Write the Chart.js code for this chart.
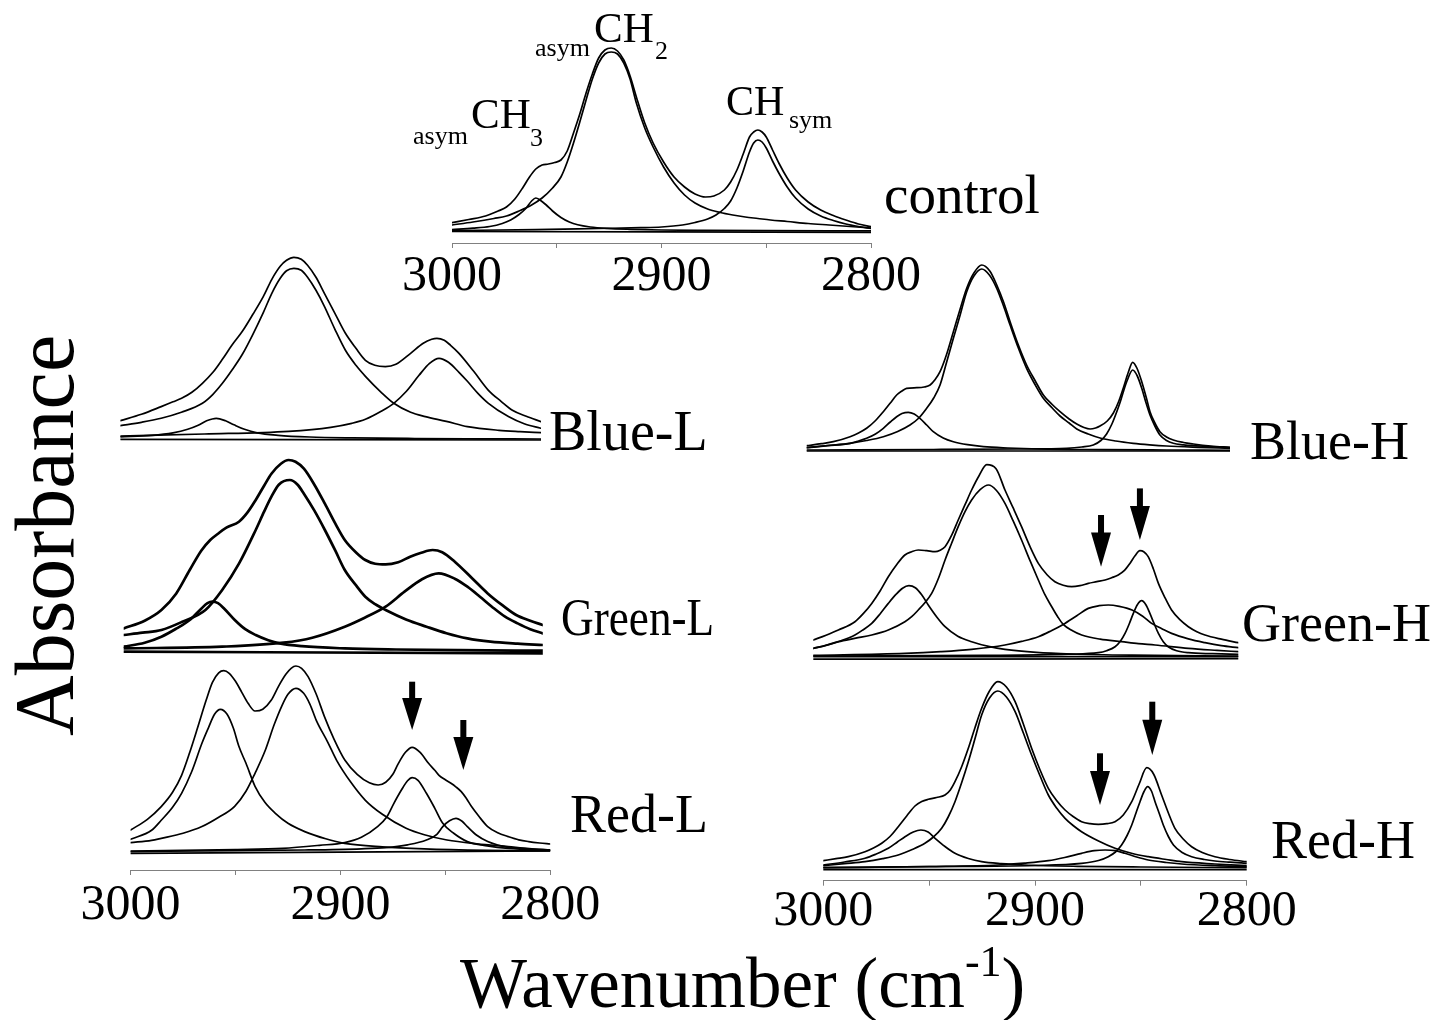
<!DOCTYPE html>
<html><head><meta charset="utf-8">
<script src="https://cdn.jsdelivr.net/npm/chart.js@4.4.1/dist/chart.umd.min.js"></script>
<style>
html,body{margin:0;padding:0;background:#fff;}
#stage{position:relative;width:1452px;height:1020px;overflow:hidden;background:#fff;}
#stage canvas{position:absolute;left:0;top:0;}
.t{position:absolute;font-family:'Liberation Serif','Times New Roman',serif;line-height:1;white-space:nowrap;color:#000;}
</style></head><body><div id="stage"></div>
<script>
// ---------------- DATA (wavenumber cm-1, absorbance a.u.) ----------------
const xTickLabels = [3000, 2900, 2800];

// control
const ctrlSum = [[3000,8.3],[2992,11.5],[2984,15],[2978,20],[2974,24],[2970,32],[2966,44],[2963,54],[2960,62],[2957,66],[2954,67],[2951,68.5],[2948,71],[2945,80],[2942,98],[2939,117],[2936,138],[2933,157],[2930,173],[2927,181],[2924,183],[2921,180],[2918,171],[2915,155],[2912,134],[2908,108],[2904,88],[2899,69],[2894,54],[2889,44],[2884,37],[2879,34],[2875,35],[2870,41],[2867,49],[2864,61],[2861,77],[2858,94],[2856,99],[2854,101],[2852,99],[2850,94],[2847,81],[2844,68],[2840,53],[2836,41],[2830,29],[2824,21],[2818,15.5],[2812,11],[2806,7],[2800,4.3]];
const ctrlCH2 = [[3000,6],[2990,9],[2980,12.5],[2974,15],[2968,20],[2962,26],[2957,33],[2952,43],[2948,54],[2945,69],[2942,88],[2939,109],[2936,131],[2933,152],[2930,168],[2927,177],[2924,179],[2921,177],[2918,168],[2915,152],[2912,128],[2908,103],[2904,84],[2899,64],[2894,48],[2889,36],[2884,28],[2878,22],[2872,18.5],[2866,16],[2860,14],[2854,12.5],[2848,11],[2840,9.5],[2830,7.5],[2820,6],[2810,4.5],[2800,3]];
const ctrlCH3 = [[3000,1.5],[2990,2.8],[2982,4.5],[2976,7.5],[2972,11],[2968,16.5],[2965,22],[2962,30],[2960,33],[2958,31],[2955,26],[2952,20],[2948,13.5],[2944,9],[2940,6.2],[2934,4],[2926,2.6],[2915,1.7],[2900,1],[2880,0.6],[2850,0.3],[2800,0.1]];
const ctrlSym = [[3000,0.5],[2960,1.3],[2930,2.5],[2910,3.3],[2900,4],[2890,6],[2884,8.5],[2878,12],[2874,16],[2870,22.5],[2867,30],[2864,43],[2861,60],[2858,79],[2856,88],[2854,91],[2852,89],[2850,83],[2847,70],[2844,58],[2840,44],[2836,33],[2830,22],[2824,15],[2818,10.5],[2812,7],[2806,4.5],[2800,2.5]];
const ctrlBase = [[3000,-0.5],[2800,-1.3]];

// Blue-L
const blSum = [[3000,18.7],[2990,25],[2980.6,32.7],[2975,37.5],[2970.9,41],[2966,47],[2961,56],[2956,67],[2951.5,80],[2947,94],[2942,108],[2937,125],[2932,143],[2928,160],[2924,173],[2921,179],[2917.5,182],[2914,180],[2911,174],[2907,162],[2903,146],[2898,126],[2893,106],[2888,91],[2883.5,79],[2879,74],[2874,72.7],[2869,75],[2862,86],[2856,96],[2852,100],[2849.5,101],[2846,99],[2843,94],[2839,86],[2832,68],[2825,49],[2819,38],[2813.6,29],[2807,23],[2800,17.7]];
const blCH2 = [[3000,13.7],[2990,17],[2980.6,21],[2971,27],[2961,36],[2956,45],[2951.5,56],[2947,69],[2942,85],[2937,105],[2932,127],[2928,146],[2924,161],[2921,168.5],[2917.5,171],[2914,169],[2911,162],[2907,149],[2903,133],[2898,110],[2893,89],[2888,74],[2883.5,63],[2876,47],[2870,36],[2862,27],[2855,22.7],[2845,18],[2835,12.7],[2820,9],[2810,7.7],[2800,6.7]];
const blCH3 = [[3000,2.5],[2985,4],[2975,6.5],[2968,10],[2963,14],[2959,18.5],[2954.4,21],[2950,18.5],[2946,14.5],[2941,10],[2935,6.5],[2925,4],[2910,2.3],[2890,1.4],[2860,0.8],[2830,0.5],[2800,0.3]];
const blSym = [[3000,3.3],[2960,5.3],[2920,8],[2900,12],[2890,16],[2883.5,20],[2876,28],[2870,36],[2864,48],[2858,64],[2853,76],[2848.5,81],[2844,77],[2839,67],[2835,58],[2830,46],[2825,36],[2815.5,22.7],[2808,15.5],[2800,11]];
const blBase = [[3000,0],[2800,-0.7]];

// Green-L
const glSum = [[3000,23.3],[2990,31],[2982,41.7],[2975,58],[2968.5,81.7],[2963,101],[2958.7,111.7],[2955,118],[2951,124],[2945,130],[2941,139],[2937,151.7],[2933,166],[2929.5,178],[2925,188],[2921.3,191.7],[2918,190],[2914,183],[2909,167],[2904,148],[2899,128],[2894.5,111.7],[2889,99],[2884.7,91.7],[2880,88],[2875,87.3],[2869,89.5],[2863.3,95],[2858,99],[2852.6,101.7],[2848,99.5],[2842,90],[2834,74],[2826.3,58.3],[2819,46],[2812.7,36.7],[2806,31],[2800,26.7]];
const glCH2 = [[3000,16.7],[2991,19],[2982,21.7],[2972,30],[2961,41.7],[2953,61.7],[2945,88],[2937,121.7],[2933,140],[2929.5,155],[2926,167],[2920.7,171.7],[2917,167],[2914,158],[2909,141],[2904,121.7],[2899,101],[2894.5,81.7],[2889,66],[2884.7,55],[2880,47.5],[2875,41.7],[2865,32],[2855.5,25],[2846,18.5],[2836,13.3],[2825,10],[2812,8],[2800,6.7]];
const glCH3 = [[3000,5],[2990,9],[2982,15],[2975,23],[2968.5,31.7],[2963,43],[2960,48.5],[2957.7,50],[2955,48.5],[2952,43],[2947,31.7],[2942,22.5],[2937,16.7],[2931,11.5],[2925.6,8.3],[2915,5.5],[2894.5,3.3],[2870,2.2],[2840,1.5],[2800,1]];
const glSym = [[3000,3.3],[2953,5],[2923.7,9],[2910,14],[2894.5,25],[2885,34],[2875,45],[2866,60],[2858,72],[2849.7,78.3],[2842,73],[2836,65],[2830,55],[2824.3,45],[2818,35],[2812,28.3],[2806,22.5],[2800,18.3]];
const glBase = [[3000,0],[2800,-1.7]];

// Red-L
const rlSum = [[3000,22.3],[2992,33],[2985.4,45.7],[2980,60],[2975.7,77],[2971.8,100],[2968,125],[2964,152],[2961,170],[2958,179.5],[2955.6,181.7],[2953,179],[2950,171],[2947,160],[2944,149],[2940.7,141.3],[2937,143],[2933,152],[2929.5,166],[2926,178],[2923.5,184],[2921.2,186.3],[2918.5,184],[2915.4,175.7],[2911.5,158],[2907.6,135.7],[2903,113],[2897.9,92.3],[2892,78],[2886.2,69.5],[2882,67.3],[2878.4,70],[2875,78],[2872.6,88],[2869,100],[2865.8,105],[2862,100],[2858,89],[2855,82],[2853,77],[2850,72.5],[2847.3,69],[2845,65.5],[2842.4,60.7],[2840,54],[2837.5,45.7],[2834,36],[2829.8,25.7],[2825,19.5],[2820,15.7],[2815,12.5],[2810.3,10.7],[2805,9.3],[2800,8.3]];
const rlCH3 = [[3000,13],[2990,22],[2985.4,32],[2980,45],[2975.7,59],[2971,80],[2966,109],[2963,124],[2960,138],[2957.2,143],[2954,138],[2951,124],[2948.4,106],[2945,89],[2940.7,66],[2936,50],[2931,39],[2925,29],[2917,20.7],[2907,13.5],[2898,9],[2880,5.5],[2860,3.5],[2830,2],[2800,1.3]];
const rlCH2 = [[3000,9.7],[2990,12],[2985.4,14],[2975,19],[2966,25.7],[2958,35],[2950.4,46],[2945,61],[2940.7,79],[2936,101],[2931.5,128],[2928,146],[2925,158],[2921.2,164],[2917.5,159],[2914.5,148],[2911.5,132],[2906,110],[2901.8,92],[2895,70],[2888.1,52],[2880,38],[2868.7,24],[2860,17.5],[2849.2,12.3],[2835,8.5],[2820,5.7],[2810,3.8],[2800,2.3]];
const rlP3 = [[3000,1.3],[2950,2.8],[2927.6,4],[2910,7],[2897.9,9.7],[2890,15],[2882.3,25.7],[2878,35],[2874.5,49],[2871,62],[2868,71.5],[2865.8,74.7],[2863,72],[2859,59],[2855,44],[2851.2,29],[2846,19],[2839.5,10.7],[2830,6.5],[2820,4],[2800,2.3]];
const rlP4 = [[3000,0.7],[2950,1.7],[2917,2.3],[2890,3.5],[2878.4,4.7],[2868,7.5],[2859,12.3],[2854,18],[2851.2,25.7],[2848,31.5],[2844.9,34],[2842,31],[2839.5,25.7],[2835,17],[2829.8,10.7],[2825,7.3],[2820,5],[2810,3.3],[2800,2.3]];
const rlBase = [[3000,-1],[2800,1.5]];
const rlArrowX = [2865.8, 2841.4], rlArrowTop = [170.6, 132.3], rlArrowTip = [122.3, 82.3];

// Blue-H
const bhSum = [[3000,5.3],[2993,7.3],[2987.4,9.3],[2979.5,14.3],[2975.5,18],[2971.7,22.7],[2967.7,30],[2963.8,39.3],[2960.5,48],[2957.5,56],[2955,60],[2952.8,62.7],[2948,63.3],[2944.5,64],[2941.7,66],[2939.5,71],[2937,79.3],[2934,96],[2930.7,119.3],[2927.5,142],[2924.4,162.7],[2921,178],[2917.3,186],[2913.5,180],[2910.2,166],[2907,149],[2903.9,129.3],[2900,106],[2896.1,86],[2892,70],[2888.2,56],[2884,46.5],[2880.3,39.3],[2876,32],[2872.4,27],[2869,23.5],[2866.1,22],[2863.5,23],[2861.4,25],[2858,30],[2855.1,38],[2852.5,50],[2850.4,63],[2848,79],[2846,88.7],[2844,83],[2841.7,69.3],[2839.5,53],[2837.8,39.3],[2835.5,28],[2833.1,19.3],[2830,14],[2826.8,11],[2822,8.5],[2817.3,7],[2809,5],[2800,3.7]];
const bhCH2 = [[3000,3.3],[2990,5.5],[2979.5,7.7],[2971.7,10.5],[2963.8,14.3],[2957,19.5],[2951.2,26],[2947,33],[2943.3,42.7],[2940,53],[2937,66],[2934,88],[2930.7,112.7],[2927.5,136],[2924.4,159.3],[2921,175],[2917.3,182],[2913.7,176],[2910.2,162.7],[2907,145],[2903.9,126],[2900,103],[2896.1,82.7],[2892,66],[2888.2,52.7],[2884,43],[2880.3,35],[2876,28],[2872.4,22],[2867,17],[2861.4,13],[2854,10],[2845.7,7.7],[2838,6.2],[2830,5],[2815,3.7],[2800,2.7]];
const bhCH3 = [[3000,3.3],[2990,5.3],[2979.5,7.7],[2975.5,10],[2971.7,12.7],[2967.5,17],[2963.8,22.7],[2960.5,29],[2957.5,34.3],[2955,37.5],[2952,38.7],[2949.2,37],[2946.5,32.7],[2943.3,26],[2940.2,19.3],[2935.5,13],[2930.7,9.3],[2924,6.3],[2916.5,4.3],[2905,3],[2890,2],[2860,1.4],[2830,1],[2800,0.7]];
const bhSym = [[3000,1],[2940,1.5],[2900,2],[2877.2,2.7],[2870,4],[2864.6,6],[2861,10.5],[2858.3,17],[2855.8,27],[2853.5,39.3],[2851.8,49.5],[2850.4,59.3],[2848.5,71],[2846,81],[2843.8,75],[2841.7,62.7],[2839.8,49],[2837.8,36],[2835.5,25],[2833.1,16],[2830,10.5],[2826.8,7.7],[2822,6.2],[2817.3,5.3],[2808,4.2],[2800,3.3]];
const bhBase = [[3000,0],[2800,0]];

// Green-H
const ghSum = [[3000,16.7],[2994,21.5],[2988.2,26.7],[2980.4,35],[2976.5,43],[2972.5,53.3],[2968.5,66],[2964.7,80],[2960.8,92],[2956.9,101.7],[2953.7,105],[2950.6,106.7],[2946.6,106],[2942.7,105],[2940.3,106.5],[2938,110],[2935,121],[2931.8,136.7],[2928.6,152],[2925.5,166.7],[2922,181],[2918.4,192],[2914,188],[2909.8,166.7],[2906,149],[2902,130],[2898,110],[2894.1,93.3],[2890,82],[2886.3,75],[2882.4,71.5],[2878.4,70],[2874.5,71],[2870.6,73.3],[2866.6,75],[2862.7,76.7],[2859.6,79],[2856.5,81.7],[2853.7,86],[2851,93.3],[2848.6,101],[2846.3,106],[2844.5,105],[2842.4,100],[2840,88],[2837.6,73.3],[2834.5,59],[2831.4,46.7],[2827.5,37],[2823.5,30],[2819.5,25],[2815.7,21.7],[2808,17.5],[2800,14]];
const ghCH2 = [[3000,8.3],[2994,11.5],[2988.2,15],[2980,18.5],[2972.5,21.7],[2964.7,26.7],[2956.9,35],[2953.7,40],[2950.6,46.7],[2947.5,54],[2944.3,63.3],[2941,79],[2938,96.7],[2935,113],[2931.8,130],[2928.6,145],[2925.5,156.7],[2921.5,167],[2917.6,171.7],[2913.7,166],[2909.8,153.3],[2906,136],[2902,116.7],[2898,96],[2894.1,76.7],[2891,62],[2887.8,50],[2885,40],[2882.4,32.3],[2878,26],[2873.7,21.7],[2865,17.5],[2854.9,15],[2847,13],[2839.2,11.7],[2823.5,8.3],[2810,6.3],[2800,5]];
const ghCH3 = [[3000,8.3],[2994,11.3],[2988.2,15],[2980.4,21.7],[2976.5,27],[2972.5,33.3],[2968.5,43],[2964.7,53.3],[2961,62.5],[2958,68.5],[2955,71],[2952,69],[2949,62],[2945.9,51.7],[2942,40],[2938,30],[2932,20.5],[2925.5,15],[2917,10],[2909.8,7.3],[2895,4.3],[2878.4,2.7],[2850,1.5],[2800,0.7]];
const ghP3 = [[3000,1.3],[2956.9,3.3],[2940,5],[2925.5,7.3],[2909.8,11.7],[2902,15.3],[2894.1,20],[2888,26],[2882.4,32.3],[2876,41],[2870.6,48.3],[2865.5,51],[2861.2,51.7],[2856,50.3],[2850,46.7],[2845,40.5],[2840.8,33.3],[2836,28],[2831.4,23.3],[2823.5,17.8],[2815.7,14],[2808,11],[2800,9]];
const ghP4 = [[3000,0.7],[2920,1.3],[2880,2.5],[2865.9,4],[2862,6],[2858,10],[2855.5,15.5],[2853.3,23.3],[2851.3,33],[2849.4,43.3],[2847.5,52],[2845.5,56],[2843.5,52],[2841.6,43.3],[2839.6,33],[2837.6,23.3],[2835.3,15],[2833,10],[2829,6],[2823.5,4],[2812,3],[2800,2.3]];
const ghBase = [[3000,0],[2800,0]];
const ghBase2 = [[3000,-2.5],[2800,-2]];
const ghArrowX = [2864.6, 2846.3], ghArrowTop = [141.7, 168.3], ghArrowTip = [90, 116.7];

// Red-H
const rhSum = [[3000,8.3],[2994,10.3],[2988.2,12.3],[2980.3,17.3],[2976.3,21],[2972.4,25.7],[2968.5,32.5],[2964.6,42.3],[2960.6,53],[2956.7,63],[2953.5,67.5],[2950.4,69.7],[2946.5,71.5],[2942.5,74],[2940,79],[2937.8,87.3],[2934.7,102],[2931.5,120.7],[2928.4,141],[2925.2,160.7],[2921.5,178],[2917.6,187.3],[2913.5,182],[2909.4,167.3],[2905.5,145],[2901.6,120.7],[2897.6,99],[2893.7,80.7],[2889.8,68.5],[2885.8,59],[2882,52.5],[2878,47.3],[2874,45.3],[2870.1,44.7],[2866.1,45.3],[2862.2,47.3],[2858.3,54],[2854.3,67.3],[2850.8,85],[2847.2,101.3],[2844,95],[2840.2,74],[2837,56],[2833.9,40.7],[2830,30],[2826,22.3],[2821,16.5],[2815,12.3],[2808,9.5],[2800,7.3]];
const rhCH2 = [[3000,3.3],[2990,5.3],[2980.3,7.3],[2972,10.3],[2964.6,14],[2958,19.5],[2952,25.7],[2948,32],[2944.1,40.7],[2941,52],[2937.8,67.3],[2934.7,86],[2931.5,107.3],[2928.4,130],[2925.2,154],[2921.5,171],[2917.6,178],[2913.5,172],[2909.4,157.3],[2905.5,136],[2901.6,114],[2897.6,93],[2893.7,74],[2889.8,61],[2885.8,50.7],[2882,43.5],[2878,37.3],[2870,28],[2862.2,20.7],[2854,15.5],[2846.5,12.3],[2838,9.5],[2830.7,7.3],[2815,5],[2800,3.3]];
const rhCH3 = [[3000,4],[2990,7],[2980.3,10.7],[2975,15],[2969.3,20.7],[2965,27],[2961.4,32.3],[2957.5,37],[2953.9,39],[2950.5,37],[2947.2,30.7],[2942.5,22.5],[2937.8,15.7],[2931.5,10.5],[2925.2,7.3],[2916,5.3],[2905,4],[2880,2.7],[2850,2],[2800,1.3]];
const rhP3 = [[3000,1.3],[2950,2.5],[2917.3,4],[2905,5.8],[2893.7,8.3],[2886,11.5],[2878,15.7],[2872,18.3],[2866.9,19],[2862,18.3],[2857.5,15.7],[2852,12],[2846.5,9],[2838,6.5],[2830.7,5],[2815,3.3],[2800,2.3]];
const rhP4 = [[3000,1.3],[2950,2.3],[2900,3.5],[2878,5.7],[2870,8.5],[2865.4,12.3],[2862,17],[2859.1,24],[2856.5,33.5],[2854.3,44],[2852.3,56],[2850.4,67.3],[2848.5,77.5],[2846.8,82.3],[2845,78],[2843.3,67.3],[2841.3,55.5],[2839.4,44],[2837,32.5],[2834.6,24],[2830.5,16.5],[2826,12.3],[2820,9.5],[2815,8],[2808,6.8],[2800,5.7]];
const rhBase = [[3000,-0.7],[2800,-0.7]];
const rhArrowX = [2869.3, 2844.6], rhArrowTop = [115.7, 167.3], rhArrowTip = [64, 114];

// ---------------- LAYOUT (pixels) ----------------
const W = 1452, H = 1020, Y_MAX = 200, AXH = 70;
const panels = [
  {series:[ctrlSum, ctrlCH2, ctrlCH3, ctrlSym, ctrlBase], left:452, right:871, base:231, axisY:243, tickPad:-1, lw:1.7},
  {series:[blSum, blCH2, blCH3, blSym, blBase], left:120.4, right:541, base:439.3, lw:1.7},
  {series:[glSum, glCH2, glCH3, glSym, glBase], left:123.7, right:542.8, base:651.7, lw:2.7},
  {series:[rlSum, rlCH3, rlCH2, rlP3, rlP4, rlBase], left:130.6, right:550.2, base:852.3, axisY:870, tickPad:1, lw:1.7,
   arrows:{x:rlArrowX, top:rlArrowTop, tip:rlArrowTip}},
  {series:[bhSum, bhCH2, bhCH3, bhSym, bhBase], left:806.7, right:1230, base:451, lw:1.7},
  {series:[ghSum, ghCH2, ghCH3, ghP3, ghP4, ghBase, ghBase2], left:813.3, right:1238.3, base:656.7, lw:1.7,
   arrows:{x:ghArrowX, top:ghArrowTop, tip:ghArrowTip}},
  {series:[rhSum, rhCH2, rhCH3, rhP3, rhP4, rhBase], left:823.3, right:1246.7, base:869, axisY:880.7, tickPad:-4, lw:1.7,
   arrows:{x:rhArrowX, top:rhArrowTop, tip:rhArrowTip}}
];

const stage = document.getElementById('stage');
const serif = "'Liberation Serif','Times New Roman',serif";

function arrowPlugin(a) {
  return {
    id: 'arrows',
    afterDatasetsDraw(chart) {
      if (!a) return;
      const ctx = chart.ctx, xs = chart.scales.x, ys = chart.scales.y;
      ctx.save();
      ctx.fillStyle = '#000';
      for (let i = 0; i < a.x.length; i++) {
        const px = xs.getPixelForValue(a.x[i]);
        const pTop = ys.getPixelForValue(a.top[i]);
        const pTip = ys.getPixelForValue(a.tip[i]);
        const headLen = (pTip - pTop) * 0.66, headW = 20, shaftW = 6;
        ctx.fillRect(px - shaftW / 2, pTop, shaftW, pTip - pTop - headLen + 1);
        ctx.beginPath();
        ctx.moveTo(px - headW / 2, pTip - headLen);
        ctx.lineTo(px + headW / 2, pTip - headLen);
        ctx.lineTo(px, pTip);
        ctx.closePath();
        ctx.fill();
      }
      ctx.restore();
    }
  };
}

panels.forEach(p => {
  const cv = document.createElement('canvas');
  cv.width = W; cv.height = H;
  stage.appendChild(cv);
  const hasAxis = p.axisY !== undefined;
  const areaTop = p.base - Y_MAX;
  const areaBottom = hasAxis ? p.axisY : p.base + 12;
  const yMin = -(areaBottom - p.base);
  new Chart(cv, {
    type: 'line',
    data: {
      datasets: p.series.map(s => ({
        data: s.map(([x, y]) => ({x, y})),
        borderColor: '#000', borderWidth: p.lw, pointRadius: 0, fill: false,
        cubicInterpolationMode: 'monotone', borderCapStyle: 'round', borderJoinStyle: 'round'
      }))
    },
    options: {
      responsive: false, animation: false, devicePixelRatio: 1, events: [],
      layout: {padding: {left: p.left, right: W - p.right, top: areaTop,
                         bottom: H - areaBottom - (hasAxis ? AXH : 0)}},
      plugins: {legend: {display: false}, tooltip: {enabled: false}},
      scales: {
        x: {
          type: 'linear', reverse: true, min: 2800, max: 3000, display: hasAxis,
          grid: {display: true, drawOnChartArea: false, drawTicks: true, tickLength: 5, color: '#808080', lineWidth: 1},
          border: {display: true, color: '#808080', width: 1},
          ticks: {stepSize: 50, autoSkip: false, maxRotation: 0, minRotation: 0, padding: p.tickPad || 0,
                  color: '#000', font: {family: serif, size: 50},
                  callback: v => xTickLabels.includes(v) ? String(v) : ''},
          afterFit: s => { s.height = hasAxis ? AXH : 0; }
        },
        y: {display: false, min: yMin, max: Y_MAX}
      }
    },
    plugins: [arrowPlugin(p.arrows)]
  });
});

// ---------------- TEXT ----------------
function text(html, size, left, baseline, extra) {
  const d = document.createElement('div');
  d.className = 't';
  d.style.fontSize = size + 'px';
  d.style.left = left + 'px';
  d.style.top = (baseline - 0.8375 * size) + 'px';
  if (extra) Object.assign(d.style, extra);
  d.innerHTML = html;
  stage.appendChild(d);
  return d;
}
text('control', 55, 884, 213);
text('Blue-L', 56, 549, 450);
text('Green-L', 52, 561, 636, {transform: 'scaleX(0.87)', transformOrigin: '0 0'});
text('Red-L', 54, 570, 832);
text('Blue-H', 54, 1250, 459);
text('Green-H', 54, 1242, 641);
text('Red-H', 54, 1271, 858);
// peak annotations
text('asym', 26, 413, 145);
text('CH', 43, 471, 128);
text('3', 26, 530, 147);
text('asym', 26, 535, 57);
text('CH', 43, 594, 42);
text('2', 26, 655, 60);
text('CH', 42, 726, 115);
text('sym', 26, 789, 129);
// axis titles
text('Absorbance', 84, 2.6, 736, {transform: 'rotate(-90deg)', transformOrigin: '0 0'}).style.top = '736px';
text('Wavenumber (cm<span style="font-size:44px;position:relative;top:-31px">-1</span>)', 71, 460, 1007);
</script></body></html>
